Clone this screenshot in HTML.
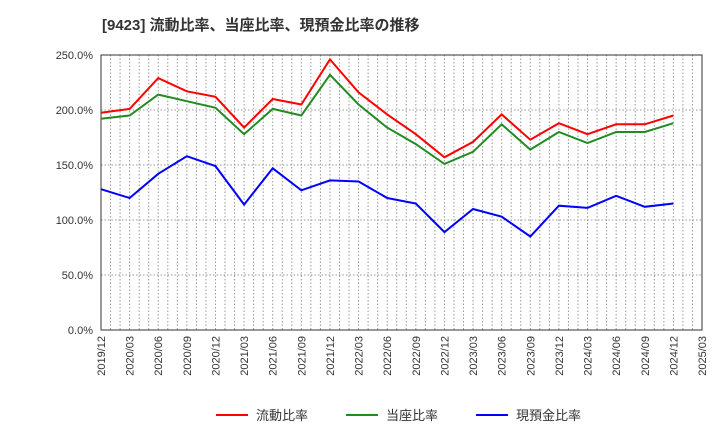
<!DOCTYPE html>
<html><head><meta charset="utf-8"><style>
body{margin:0;background:#fff;}
svg{display:block;font-family:"Liberation Sans","Noto Sans CJK JP",sans-serif;}
</style></head><body>
<svg id="chart" width="720" height="440" viewBox="0 0 720 440">
<text x="102" y="30" font-size="15" font-weight="bold" fill="#333">[9423]  流動比率、当座比率、現預金比率の推移</text>
<g id="grid"></g>
<rect x="101" y="55" width="601" height="275" fill="none" stroke="#333" stroke-width="1"/>
<g id="series"></g>
<g id="axes"></g>
<g id="legend"></g>
</svg>
<script>
const categories=["2019/12","2020/03","2020/06","2020/09","2020/12","2021/03","2021/06","2021/09","2021/12","2022/03","2022/06","2022/09","2022/12","2023/03","2023/06","2023/09","2023/12","2024/03","2024/06","2024/09","2024/12"];
const tickLabels=["2019/12","2020/03","2020/06","2020/09","2020/12","2021/03","2021/06","2021/09","2021/12","2022/03","2022/06","2022/09","2022/12","2023/03","2023/06","2023/09","2023/12","2024/03","2024/06","2024/09","2024/12","2025/03"];
const yTicks=[0,50,100,150,200,250];
const currentRatio=[197.5,201,229,217,212,184,210,205,246,216,196,178,157,171,196,173,188,178,187,187,195];
const quickRatio=[192,195,214,208,202,178,201,195,232,205,184,169,151,162,187,164,180,170,180,180,188];
const cashRatio=[128,120,142,158,149,114,147,127,136,135,120,115,89,110,103,85,113,111,122,112,115];
const seriesNames=["流動比率","当座比率","現預金比率"];
const NS="http://www.w3.org/2000/svg";
const L=101,R=702,T=55,B=330;
const xs=i=>L+i*(R-L)/(tickLabels.length-1);
const ys=v=>B-v*(B-T)/250;
function mk(tag,attrs,parent){const e=document.createElementNS(NS,tag);for(const k in attrs)e.setAttribute(k,attrs[k]);parent.appendChild(e);return e;}
const grid=document.getElementById('grid'),axes=document.getElementById('axes'),ser=document.getElementById('series'),leg=document.getElementById('legend');
for(let m=1;m<(tickLabels.length-1)*3;m++){const x=L+m*(R-L)/((tickLabels.length-1)*3);
const g=mk('line',{x1:x,x2:x,y1:T,y2:B,stroke:'#999','stroke-dasharray':'1.5,2','stroke-width':1},grid);

}
yTicks.forEach(v=>{const y=ys(v);
if(v>0&&v<250){const g=mk('line',{x1:L,x2:R,y1:y,y2:y,stroke:'#999','stroke-dasharray':'1.5,2'},grid);

}
const t=mk('text',{x:L-8,y:y+4,'text-anchor':'end','font-size':11,fill:'#333'},axes);t.textContent=v.toFixed(1)+'%';

});
tickLabels.forEach((c,i)=>{const x=xs(i);
const t=mk('text',{transform:`translate(${x+4},336) rotate(-90)`,'text-anchor':'end','font-size':11,fill:'#333'},axes);t.textContent=c;

});
const data=[currentRatio,quickRatio,cashRatio],colors=['#ff0000','#228b22','#0000ff'],names=['current-ratio-line','quick-ratio-line','cash-ratio-line'];
data.forEach((d,k)=>{const p=mk('polyline',{points:d.map((v,i)=>xs(i)+','+ys(v)).join(' '),fill:'none',stroke:colors[k],'stroke-width':2},ser);

});
const lx=[216,346,476];
seriesNames.forEach((n,k)=>{const g=mk('g',{},leg);


mk('line',{x1:lx[k],x2:lx[k]+32,y1:415,y2:415,stroke:colors[k],'stroke-width':2},g);
const t=mk('text',{x:lx[k]+40,y:420,'font-size':13,fill:'#333'},g);t.textContent=n;});
</script>
</body></html>
